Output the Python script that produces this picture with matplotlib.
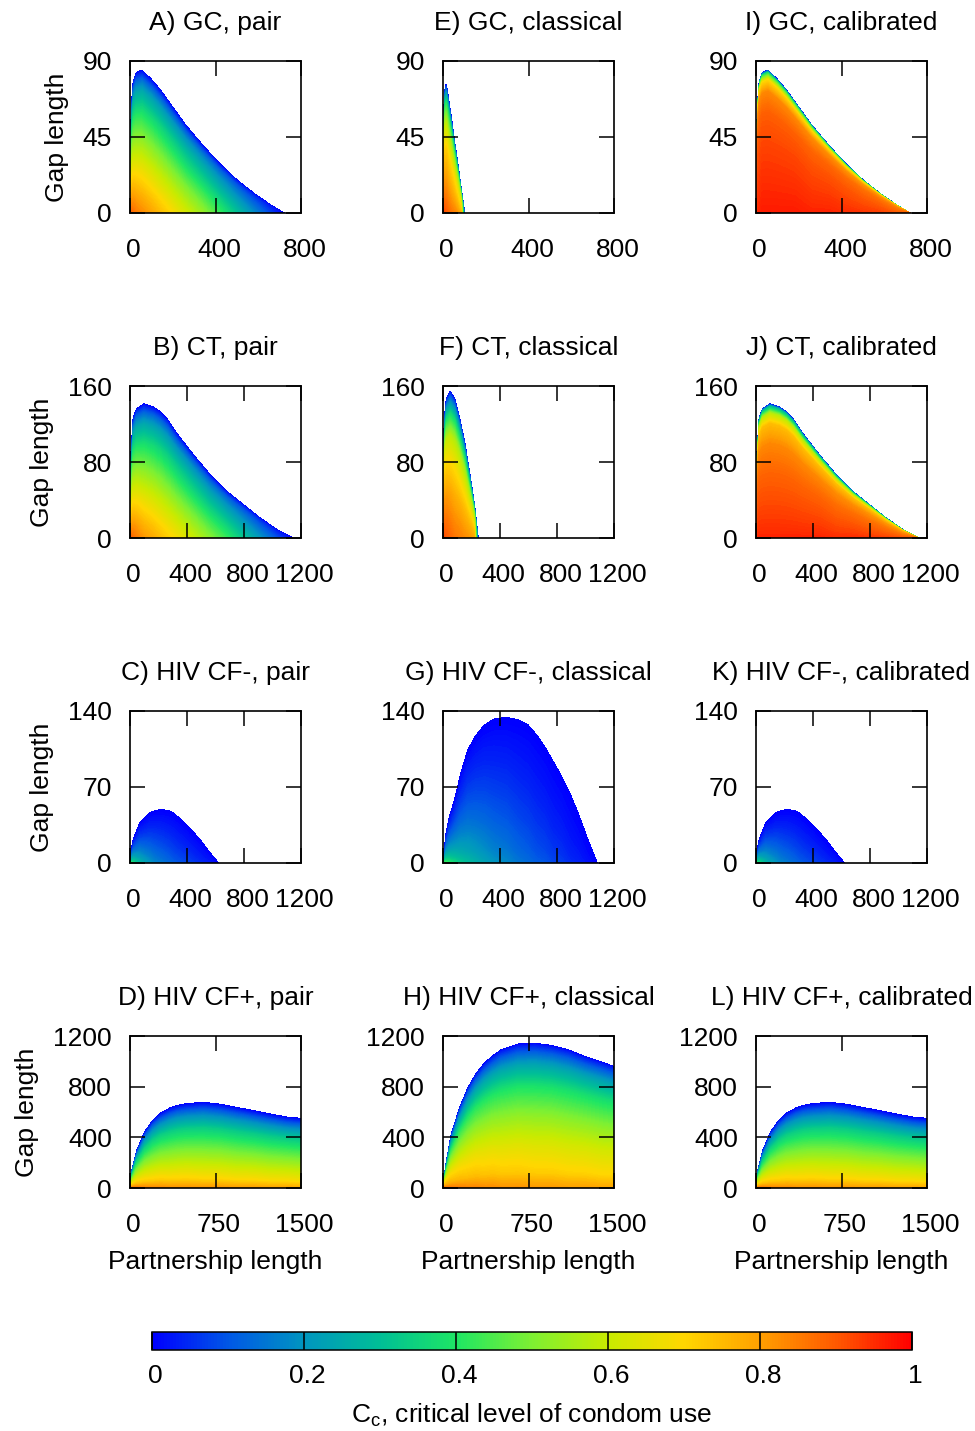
import numpy as np
import matplotlib
matplotlib.use('Agg')
import matplotlib.pyplot as plt
from matplotlib.colors import LinearSegmentedColormap, Normalize
from matplotlib.cm import ScalarMappable
from matplotlib.transforms import ScaledTranslation

plt.rcParams['font.family'] = ['Liberation Sans', 'DejaVu Sans']
plt.rcParams['font.size'] = 19

# colour scale for C_c (0 blue .. 1 red)
cc_stops = [0.0, 0.1, 0.2, 0.3, 0.4, 0.5, 0.6, 0.7, 0.8, 0.9, 1.0]
cc_colours = ['#0000ff', '#0058e6', '#0096bf', '#00bf96', '#1ee664', '#7ef032',
              '#c8eb00', '#ffd700', '#ffa000', '#ff5a00', '#ff0000']
cmap = LinearSegmentedColormap.from_list('cc', list(zip(cc_stops, cc_colours)))

# fraction of the outer curve height at which C_c was read
t_levels = [0, 0.1, 0.3, 0.5, 0.7, 0.85, 0.93, 0.98, 1.0]

# GC (pair and calibrated share the outer curve)
gc_x = [0, 3, 8, 16, 30, 55, 100, 140, 180, 260, 340, 420, 500, 580, 660, 720]
gc_top = [0, 45, 65, 78, 83, 84.5, 79, 73, 66, 52, 40, 29, 19.5, 11.5, 4.5, 0]
gc_pair_bottom = [0.9, 0.89, 0.88, 0.87, 0.85, 0.83, 0.79, 0.75, 0.71, 0.62, 0.53, 0.42, 0.3, 0.18, 0.07, 0]
gc_pair_profile = [1, 0.94, 0.8, 0.64, 0.47, 0.3, 0.16, 0.05, 0]
gc_cal_bottom = [0.9, 0.93, 0.95, 0.96, 0.97, 0.97, 0.97, 0.97, 0.97, 0.96, 0.96, 0.95, 0.94, 0.93, 0.9, 0.9]
gc_cal_profile = [1, 0.99, 0.97, 0.95, 0.92, 0.86, 0.72, 0.4, 0]

gc_cl_x = [0, 3, 8, 15, 25, 40, 55, 70, 85, 101]
gc_cl_top = [0, 55, 72, 76, 68, 55, 41, 28, 14, 0]
gc_cl_bottom = [0.92, 0.92, 0.91, 0.9, 0.88, 0.86, 0.84, 0.81, 0.76, 0]
gc_cl_profile = [1, 0.96, 0.88, 0.8, 0.65, 0.45, 0.25, 0.08, 0]

# CT
ct_x = [0, 2, 7, 23, 47, 98, 160, 210, 260, 327, 444, 561, 678, 795, 912, 1029, 1141]
ct_top = [0, 55, 87, 126, 136, 141, 138, 133, 125, 110, 87.5, 66.5, 49, 35, 21, 8.8, 0]
ct_pair_bottom = [0.9, 0.9, 0.89, 0.87, 0.85, 0.81, 0.78, 0.75, 0.72, 0.68, 0.6, 0.51, 0.42, 0.31, 0.2, 0.09, 0]
ct_pair_profile = [1, 0.94, 0.8, 0.64, 0.47, 0.3, 0.16, 0.05, 0]
ct_cal_bottom = [0.9, 0.92, 0.94, 0.96, 0.96, 0.96, 0.96, 0.96, 0.96, 0.96, 0.96, 0.95, 0.95, 0.94, 0.93, 0.91, 0.9]
ct_cal_profile = [1, 0.98, 0.95, 0.92, 0.87, 0.78, 0.6, 0.3, 0]

ct_cl_x = [0, 3, 10, 25, 51, 80, 110, 150, 190, 220, 246]
ct_cl_top = [0, 80, 125, 147, 154, 147, 130, 102, 65, 35, 0]
ct_cl_bottom = [0.92, 0.92, 0.91, 0.9, 0.88, 0.86, 0.85, 0.83, 0.81, 0.78, 0]
ct_cl_profile = [1, 0.97, 0.9, 0.8, 0.66, 0.42, 0.22, 0.07, 0]

# HIV CF- (pair and calibrated look the same)
hivn_x = [0, 7, 25, 70, 140, 180, 222, 265, 304, 398, 491, 561, 620]
hivn_top = [0, 10.7, 22, 37, 46, 48.3, 49, 48.2, 46, 35, 21.4, 9.2, 0]
hivn_bottom = [0.45, 0.42, 0.36, 0.27, 0.2, 0.17, 0.15, 0.13, 0.11, 0.08, 0.05, 0.03, 0]
hivn_profile = [1, 0.85, 0.6, 0.4, 0.22, 0.1, 0.04, 0.01, 0]

hivn_cl_x = [0, 23, 47, 82, 125, 175, 230, 292, 360, 444, 520, 596, 655, 713, 770, 830, 890, 947, 1017, 1081]
hivn_cl_top = [0, 27.6, 43, 58, 82, 104, 117, 127, 132.5, 134, 132, 127, 118, 107, 94, 80, 64, 46, 21, 0]
hivn_cl_bottom = [0.5, 0.44, 0.4, 0.36, 0.32, 0.29, 0.26, 0.23, 0.2, 0.18, 0.15, 0.13, 0.11, 0.1,
                  0.08, 0.07, 0.05, 0.04, 0.02, 0]
hivn_cl_profile = [1, 0.8, 0.55, 0.36, 0.2, 0.1, 0.04, 0.01, 0]

# HIV CF+ (pair and calibrated look the same)
hivp_x = [0, 15, 58, 132, 205, 270, 351, 420, 497, 643, 789, 936, 1082, 1228, 1374, 1500]
hivp_top = [0, 131, 289, 446, 538, 590, 630, 652, 664, 675, 660, 635, 609, 583, 559, 548]
hivp_bottom = [0.9, 0.88, 0.86, 0.84, 0.83, 0.83, 0.82, 0.82, 0.82, 0.81, 0.81, 0.8, 0.8, 0.79, 0.79, 0.78]
hivp_profile = [1, 0.87, 0.72, 0.57, 0.41, 0.23, 0.11, 0.03, 0]

hivp_cl_x = [0, 9, 29, 73, 146, 219, 290, 365, 440, 512, 658, 804, 950, 1096, 1243, 1389, 1500]
hivp_cl_top = [0, 79, 200, 420, 630, 788, 900, 985, 1045, 1090, 1135, 1142, 1124, 1090, 1037, 993, 958]
hivp_cl_bottom = [0.92, 0.9, 0.88, 0.86, 0.85, 0.84, 0.84, 0.83, 0.83, 0.82, 0.82, 0.81, 0.81, 0.8,
                  0.8, 0.79, 0.79]
hivp_cl_profile = [1, 0.89, 0.78, 0.64, 0.48, 0.29, 0.15, 0.05, 0]

# axis settings per row
row_xmax = [800, 1200, 1200, 1500]
row_xticks = [[0, 400, 800], [0, 400, 800, 1200], [0, 400, 800, 1200], [0, 750, 1500]]
row_ymax = [90, 160, 140, 1200]
row_yticks = [[0, 45, 90], [0, 80, 160], [0, 70, 140], [0, 400, 800, 1200]]

panels = [
    # row, col, title, x, top, bottom, profile
    (0, 0, 'A) GC, pair', gc_x, gc_top, gc_pair_bottom, gc_pair_profile),
    (0, 1, 'E) GC, classical', gc_cl_x, gc_cl_top, gc_cl_bottom, gc_cl_profile),
    (0, 2, 'I) GC, calibrated', gc_x, gc_top, gc_cal_bottom, gc_cal_profile),
    (1, 0, 'B) CT, pair', ct_x, ct_top, ct_pair_bottom, ct_pair_profile),
    (1, 1, 'F) CT, classical', ct_cl_x, ct_cl_top, ct_cl_bottom, ct_cl_profile),
    (1, 2, 'J) CT, calibrated', ct_x, ct_top, ct_cal_bottom, ct_cal_profile),
    (2, 0, 'C) HIV CF-, pair', hivn_x, hivn_top, hivn_bottom, hivn_profile),
    (2, 1, 'G) HIV CF-, classical', hivn_cl_x, hivn_cl_top, hivn_cl_bottom, hivn_cl_profile),
    (2, 2, 'K) HIV CF-, calibrated', hivn_x, hivn_top, hivn_bottom, hivn_profile),
    (3, 0, 'D) HIV CF+, pair', hivp_x, hivp_top, hivp_bottom, hivp_profile),
    (3, 1, 'H) HIV CF+, classical', hivp_cl_x, hivp_cl_top, hivp_cl_bottom, hivp_cl_profile),
    (3, 2, 'L) HIV CF+, calibrated', hivp_x, hivp_top, hivp_bottom, hivp_profile),
]

fig = plt.figure(figsize=(9.75, 14.31), dpi=100)

col_left = [130, 443, 756]
row_bottom = [213, 538, 863, 1188]
W, H = 975.0, 1431.0
aw, ah = 171, 152

levels = np.linspace(0, 1, 201)
shift = ScaledTranslation(2.5 / 72, 0, fig.dpi_scale_trans)

for row, col, title, px, top, bottom, profile in panels:
    ax = fig.add_axes([col_left[col] / W, 1 - row_bottom[row] / H, aw / W, ah / H])
    X = np.tile(np.array(px, float), (len(t_levels), 1))
    Y = np.outer(t_levels, top)
    C = np.outer(profile, bottom)
    cs = ax.contourf(X, Y, C, levels=levels, cmap=cmap, vmin=0, vmax=1)
    cs.set_edgecolor('face')
    cs.set_linewidth(0.3)

    ax.set_xlim(0, row_xmax[row])
    ax.set_ylim(0, row_ymax[row])
    ax.set_xticks(row_xticks[row])
    ax.set_xticklabels([str(v) for v in row_xticks[row]])
    ax.set_yticks(row_yticks[row])
    ax.set_yticklabels([str(v) for v in row_yticks[row]])
    ax.tick_params(direction='in', length=10.5, width=1.1, top=True, right=True,
                   labelsize=19, colors='black')
    ax.tick_params(axis='x', pad=18)
    ax.tick_params(axis='y', pad=13)
    for lab in ax.get_xticklabels():
        lab.set_transform(lab.get_transform() + shift)
    for s in ax.spines.values():
        s.set_linewidth(1.2)
    ax.set_title(title, fontsize=19, pad=22)
    if col == 0:
        ax.set_ylabel('Gap length', fontsize=19, labelpad=10)
    if row == 3:
        ax.set_xlabel('Partnership length', fontsize=19, labelpad=9)

cax = fig.add_axes([152 / W, 1 - 1350 / H, 760 / W, 18 / H])
sm = ScalarMappable(norm=Normalize(0, 1), cmap=cmap)
cb = fig.colorbar(sm, cax=cax, orientation='horizontal')
cb_ticks = [0, 0.2, 0.4, 0.6, 0.8, 1]
cb.set_ticks(cb_ticks)
cb.set_ticklabels(['0', '0.2', '0.4', '0.6', '0.8', '1'])
cax.tick_params(direction='in', length=13, width=1.1, labelsize=19, pad=10)
for lab in cax.get_xticklabels():
    lab.set_transform(lab.get_transform() + shift)
cb.outline.set_linewidth(1.1)
cb.set_label(r'$\mathregular{C_c}$, critical level of condom use', fontsize=19, labelpad=10)

fig.savefig('out.png', dpi=100)
